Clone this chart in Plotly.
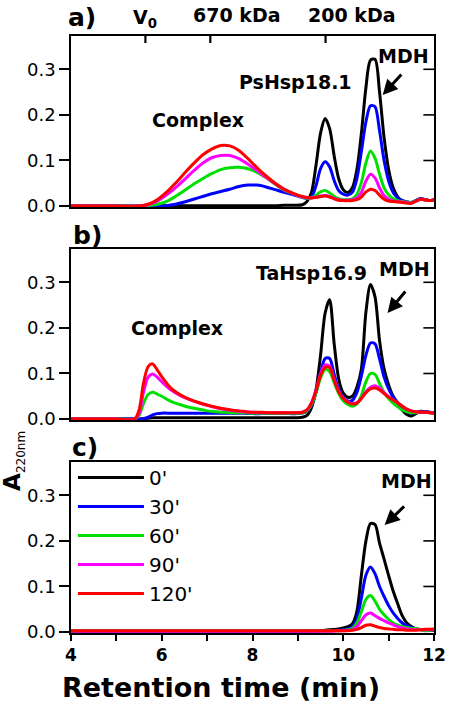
import plotly.graph_objects as go

# ---------------- data ----------------
SERIES = ["0'", "30'", "60'", "90'", "120'"]
COLORS = ["#000000", "#0000FF", "#00E000", "#FF00FF", "#FF0000"]

# Panel a) PsHsp18.1 + MDH
XA = [4.0, 5.0, 5.5, 5.7, 5.9, 6.1, 6.3, 6.5, 6.7, 6.9, 7.1, 7.3, 7.5, 7.7, 7.9, 8.1, 8.3, 8.5, 8.7, 8.9,
      9.1, 9.2, 9.3, 9.4, 9.5, 9.6, 9.7, 9.8, 9.9, 10.0, 10.1, 10.2, 10.3, 10.4, 10.5, 10.6, 10.7, 10.8,
      10.9, 11.0, 11.1, 11.2, 11.3, 11.5, 11.7, 11.9, 12.0]
A_0 = [0, 0, 0, 0.001, 0.001, 0.001, 0.001, 0.001, 0.001, 0.001, 0.001, 0.001, 0.001, 0.001, 0.001, 0.001,
       0.001, 0.001, 0.002, 0.002, 0.003, 0.010, 0.030, 0.090, 0.160, 0.192, 0.170, 0.110, 0.060, 0.036,
       0.030, 0.040, 0.080, 0.160, 0.260, 0.320, 0.322, 0.250, 0.150, 0.080, 0.040, 0.020, 0.012, 0.008,
       0.016, 0.012, 0.014]
A_30 = [0, 0, 0, 0, 0, 0.001, 0.004, 0.009, 0.015, 0.021, 0.027, 0.032, 0.037, 0.043, 0.046, 0.046, 0.042,
        0.036, 0.030, 0.025, 0.019, 0.017, 0.020, 0.045, 0.082, 0.097, 0.086, 0.056, 0.034, 0.026, 0.024,
        0.030, 0.060, 0.120, 0.185, 0.220, 0.218, 0.165, 0.100, 0.055, 0.030, 0.018, 0.012, 0.008, 0.016,
        0.012, 0.014]
A_60 = [0, 0, 0, 0.001, 0.004, 0.010, 0.021, 0.034, 0.048, 0.060, 0.071, 0.080, 0.084, 0.085, 0.082, 0.074,
        0.062, 0.048, 0.035, 0.027, 0.019, 0.017, 0.018, 0.024, 0.031, 0.034, 0.029, 0.021, 0.016, 0.014,
        0.014, 0.016, 0.026, 0.052, 0.095, 0.121, 0.105, 0.070, 0.040, 0.025, 0.016, 0.012, 0.010, 0.008,
        0.015, 0.012, 0.014]
A_90 = [0, 0, 0, 0.003, 0.011, 0.024, 0.040, 0.058, 0.077, 0.094, 0.106, 0.111, 0.111, 0.104, 0.092, 0.078,
        0.063, 0.049, 0.036, 0.027, 0.020, 0.018, 0.018, 0.020, 0.022, 0.023, 0.021, 0.017, 0.014, 0.013,
        0.013, 0.014, 0.018, 0.030, 0.055, 0.070, 0.062, 0.040, 0.023, 0.015, 0.011, 0.010, 0.009, 0.007,
        0.015, 0.012, 0.014]
A_120 = [0, 0, 0, 0.004, 0.014, 0.030, 0.050, 0.072, 0.093, 0.112, 0.125, 0.133, 0.132, 0.122, 0.104, 0.084,
         0.066, 0.050, 0.037, 0.028, 0.021, 0.019, 0.018, 0.019, 0.021, 0.022, 0.020, 0.016, 0.013, 0.012,
         0.012, 0.012, 0.014, 0.020, 0.031, 0.037, 0.034, 0.024, 0.015, 0.011, 0.010, 0.009, 0.008, 0.006,
         0.015, 0.012, 0.014]

# Panel b) TaHsp16.9 + MDH
XB = [4.0, 5.0, 5.4, 5.5, 5.6, 5.7, 5.8, 5.9, 6.0, 6.2, 6.4, 6.6, 6.8, 7.0, 7.2, 7.4, 7.6, 7.8, 8.0, 8.2,
      8.4, 8.6, 8.8, 9.0, 9.1, 9.2, 9.3, 9.4, 9.5, 9.6, 9.7, 9.8, 9.9, 10.0, 10.1, 10.2, 10.3, 10.4, 10.5,
      10.6, 10.7, 10.8, 10.9, 11.0, 11.1, 11.2, 11.3, 11.4, 11.5, 11.6, 11.7, 11.8, 11.9, 12.0]
B_0 = [0, 0, 0, 0, 0.001, 0.002, 0.003, 0.003, 0.003, 0.003, 0.003, 0.003, 0.003, 0.003, 0.003, 0.003,
       0.003, 0.003, 0.003, 0.003, 0.003, 0.003, 0.003, 0.003, 0.004, 0.008, 0.025, 0.065, 0.140, 0.232,
       0.262, 0.165, 0.088, 0.057, 0.048, 0.050, 0.070, 0.110, 0.235, 0.295, 0.268, 0.172, 0.110, 0.075,
       0.050, 0.035, 0.020, 0.010, 0.007, 0.012, 0.017, 0.016, 0.015, 0.014]
B_30 = [0, 0, 0, 0, 0.001, 0.004, 0.009, 0.012, 0.013, 0.013, 0.013, 0.013, 0.013, 0.013, 0.013, 0.013,
        0.013, 0.013, 0.012, 0.012, 0.012, 0.012, 0.012, 0.012, 0.013, 0.017, 0.030, 0.058, 0.100, 0.133,
        0.133, 0.098, 0.066, 0.048, 0.040, 0.041, 0.058, 0.095, 0.140, 0.167, 0.165, 0.132, 0.092, 0.066,
        0.048, 0.036, 0.025, 0.016, 0.013, 0.014, 0.016, 0.016, 0.015, 0.014]
B_60 = [0, 0, 0, 0.008, 0.035, 0.054, 0.059, 0.055, 0.050, 0.039, 0.032, 0.026, 0.022, 0.018, 0.016, 0.015,
        0.014, 0.014, 0.013, 0.013, 0.013, 0.013, 0.013, 0.013, 0.014, 0.018, 0.032, 0.058, 0.090, 0.109,
        0.104, 0.080, 0.056, 0.040, 0.032, 0.028, 0.033, 0.052, 0.082, 0.100, 0.098, 0.078, 0.058, 0.045,
        0.035, 0.027, 0.020, 0.016, 0.014, 0.014, 0.015, 0.015, 0.014, 0.013]
B_90 = [0, 0, 0, 0.012, 0.060, 0.092, 0.099, 0.092, 0.082, 0.064, 0.052, 0.043, 0.036, 0.030, 0.025, 0.021,
        0.018, 0.016, 0.015, 0.014, 0.014, 0.014, 0.014, 0.014, 0.015, 0.020, 0.036, 0.064, 0.100, 0.119,
        0.116, 0.088, 0.062, 0.046, 0.038, 0.034, 0.036, 0.046, 0.060, 0.070, 0.073, 0.068, 0.058, 0.049,
        0.042, 0.036, 0.028, 0.022, 0.018, 0.016, 0.015, 0.015, 0.014, 0.013]
B_120 = [0, 0, 0, 0.020, 0.080, 0.115, 0.121, 0.108, 0.093, 0.068, 0.054, 0.044, 0.037, 0.031, 0.026, 0.022,
         0.019, 0.017, 0.015, 0.015, 0.014, 0.014, 0.014, 0.014, 0.015, 0.020, 0.035, 0.062, 0.096, 0.113,
         0.113, 0.085, 0.060, 0.045, 0.037, 0.033, 0.035, 0.045, 0.058, 0.066, 0.068, 0.064, 0.056, 0.048,
         0.042, 0.036, 0.028, 0.022, 0.018, 0.016, 0.015, 0.015, 0.014, 0.013]

# Panel c) MDH alone
XC = [4.0, 5.0, 6.0, 7.0, 8.0, 9.0, 9.5, 9.7, 9.9, 10.0, 10.1, 10.2, 10.3, 10.4, 10.5, 10.6, 10.7, 10.8,
      10.9, 11.0, 11.1, 11.2, 11.3, 11.4, 11.5, 11.6, 11.8, 12.0]
C_0 = [0.002, 0.002, 0.002, 0.002, 0.002, 0.002, 0.003, 0.005, 0.007, 0.009, 0.012, 0.018, 0.045, 0.125,
       0.200, 0.238, 0.236, 0.195, 0.160, 0.124, 0.090, 0.062, 0.036, 0.020, 0.012, 0.007, 0.004, 0.004]
C_30 = [0.002, 0.002, 0.002, 0.002, 0.002, 0.002, 0.003, 0.003, 0.004, 0.005, 0.007, 0.012, 0.030, 0.075,
        0.125, 0.143, 0.128, 0.100, 0.078, 0.058, 0.042, 0.030, 0.020, 0.014, 0.010, 0.007, 0.005, 0.005]
C_60 = [0.003, 0.003, 0.003, 0.003, 0.003, 0.003, 0.003, 0.003, 0.003, 0.004, 0.005, 0.008, 0.020, 0.045,
        0.072, 0.080, 0.068, 0.050, 0.038, 0.028, 0.020, 0.015, 0.012, 0.010, 0.008, 0.008, 0.003, 0.006]
C_90 = [0.002, 0.002, 0.002, 0.002, 0.002, 0.002, 0.002, 0.002, 0.003, 0.003, 0.004, 0.005, 0.012, 0.025,
        0.038, 0.042, 0.036, 0.030, 0.025, 0.020, 0.016, 0.012, 0.009, 0.007, 0.006, 0.005, 0.005, 0.005]
C_120 = [0.003, 0.003, 0.003, 0.003, 0.003, 0.003, 0.003, 0.003, 0.003, 0.003, 0.003, 0.004, 0.006, 0.010,
         0.015, 0.016, 0.013, 0.010, 0.008, 0.007, 0.006, 0.005, 0.005, 0.004, 0.004, 0.004, 0.006, 0.007]

X_TICKS = [4, 5, 6, 7, 8, 9, 10, 11, 12]
X_TICKTEXT = ["4", "", "6", "", "8", "", "10", "", "12"]
Y_TICKS = [0.0, 0.1, 0.2, 0.3]
Y_TICKTEXT = ["0.0", "0.1", "0.2", "0.3"]
TOP_MARKERS = [5.64, 7.07, 9.61]   # V0, 670 kDa, 200 kDa

PANELS = [
    (XA, [A_0, A_30, A_60, A_90, A_120]),
    (XB, [B_0, B_30, B_60, B_90, B_120]),
    (XC, [C_0, C_30, C_60, C_90, C_120]),
]

# ---------------- layout geometry ----------------
W, H = 456, 704
PLOT_L, PLOT_R, PLOT_T, PLOT_B = 71, 446, 36, 633          # plot box in window pixels
ML, MT = PLOT_L, PLOT_T
PW, PH = PLOT_R - PLOT_L, PLOT_B - PLOT_T
MR, MB = W - ML - PW, H - MT - PH
FONT = "DejaVu Sans"

def px(xp, yp):
    """window pixel -> paper coordinates"""
    return (xp - PLOT_L) / PW, (PLOT_B - yp) / PH

domains = [[426 / PH, 1.0], [213 / PH, 384 / PH], [0.0, 171 / PH]]
YR = [-0.002, 0.373]

fig = go.Figure()
for i, (xs, ys_list) in enumerate(PANELS):
    sfx = "" if i == 0 else str(i + 1)
    for name, color, ys in zip(SERIES, COLORS, ys_list):
        fig.add_trace(go.Scatter(
            x=xs, y=ys, mode="lines", name=name,
            line=dict(color=color, width=3, shape="spline", smoothing=0.8),
            xaxis="x" + sfx, yaxis="y" + sfx,
            legendgroup=name, showlegend=(i == 2),
        ))

axis_common = dict(showgrid=False, zeroline=False, showline=True, linecolor="black",
                   linewidth=1.6, mirror=True)
lay = {}
shapes = []
for i in range(3):
    sfx = "" if i == 0 else str(i + 1)
    xa = dict(axis_common, range=[4, 12], anchor="y" + sfx, domain=[0, 1])
    if i == 2:
        xa.update(tickmode="array", tickvals=X_TICKS, ticktext=X_TICKTEXT, ticks="outside",
                  ticklen=6, tickwidth=1.6, tickcolor="black",
                  tickfont=dict(family=FONT, size=17, color="black", weight="bold"))
    else:
        xa.update(showticklabels=False, ticks="", matches="x3")
    ya = dict(axis_common, range=YR, domain=domains[i], anchor="x" + sfx,
              tickmode="array", tickvals=Y_TICKS, ticktext=Y_TICKTEXT, ticks="outside",
              ticklen=10, tickwidth=1.6, tickcolor="black",
              tickfont=dict(family=FONT, size=18, color="black"))
    lay["xaxis" + sfx] = xa
    lay["yaxis" + sfx] = ya
    # right-hand inward tick marks (axis decoration), positioned in paper space
    y_lo, y_hi = domains[i]
    for tv in Y_TICKS[1:]:
        yp = y_lo + (tv - YR[0]) / (YR[1] - YR[0]) * (y_hi - y_lo)
        shapes.append(dict(type="line", xref="paper", yref="paper", layer="above",
                           x0=1 - 11 / PW, x1=1, y0=yp, y1=yp,
                           line=dict(color="black", width=1.6)))
# top inward tick marks for panel a (V0, 670 kDa, 200 kDa)
for tv in TOP_MARKERS:
    xp = (tv - 4) / 8
    shapes.append(dict(type="line", xref="paper", yref="paper", layer="above", x0=xp, x1=xp,
                       y0=1 - 7 / PH, y1=1, line=dict(color="black", width=2.2)))

ann = []
def label(text, xp, yp, size=19, bold=True, **kw):
    x, y = px(xp, yp)
    t = f"<b>{text}</b>" if bold else text
    d = dict(text=t, x=x, y=y, xref="paper", yref="paper", showarrow=False,
             font=dict(family=FONT, size=size, color="black"), xanchor="center", yanchor="middle")
    d.update(kw)
    ann.append(d)

def arrow(x_head, y_head, x_tail, y_tail):
    x, y = px(x_head, y_head)
    ann.append(dict(text="", x=x, y=y, xref="paper", yref="paper", showarrow=True,
                    ax=x_tail - x_head, ay=y_tail - y_head, arrowhead=2, arrowsize=1,
                    arrowwidth=3, arrowcolor="black"))

# panel letters
label("a)", 82, 17, size=25)
label("b)", 88, 235, size=25)
label("c)", 85, 447, size=25)
# top markers
label("V<sub>0</sub>", 147, 18, size=19)
label("670 kDa", 242, 15, size=19)
label("200 kDa", 361, 15, size=19)
# panel a
label("Complex", 202, 120, size=19)
label("PsHsp18.1", 303, 82, size=19)
label("MDH", 414, 56, size=19)
arrow(393, 95, 413, 73)
# panel b
label("Complex", 181, 328, size=19)
label("TaHsp16.9", 319, 273, size=19)
label("MDH", 416, 269, size=19)
arrow(398, 313, 417, 290)
# panel c
label("MDH", 418, 481, size=19)
arrow(395, 525, 416, 505)
# x axis title
label("Retention time (min)", 226, 687, size=27)
# y axis label
label("A<sub><span style='font-size:12px;font-weight:normal'>220nm</span></sub>", 12, 461,
      size=23, textangle=-90)

lx, ly = px(73, 458)
fig.update_layout(
    width=W, height=H, margin=dict(l=ML, r=MR, t=MT, b=MB),
    paper_bgcolor="white", plot_bgcolor="white",
    font=dict(family=FONT, color="black"),
    annotations=ann, shapes=shapes, hovermode=False,
    legend=dict(x=lx, y=ly, xanchor="left", yanchor="top", bgcolor="rgba(0,0,0,0)",
                font=dict(family=FONT, size=20, color="black"), itemwidth=66,
                traceorder="grouped", tracegroupgap=0),
    **lay,
)

# remove the browser's default 8px body margin so the figure fills the window exactly
fig.write_html("out.html",
               config={"displayModeBar": False},
               post_script="document.body.style.margin='0';"
                           "document.documentElement.style.overflow='hidden';")
